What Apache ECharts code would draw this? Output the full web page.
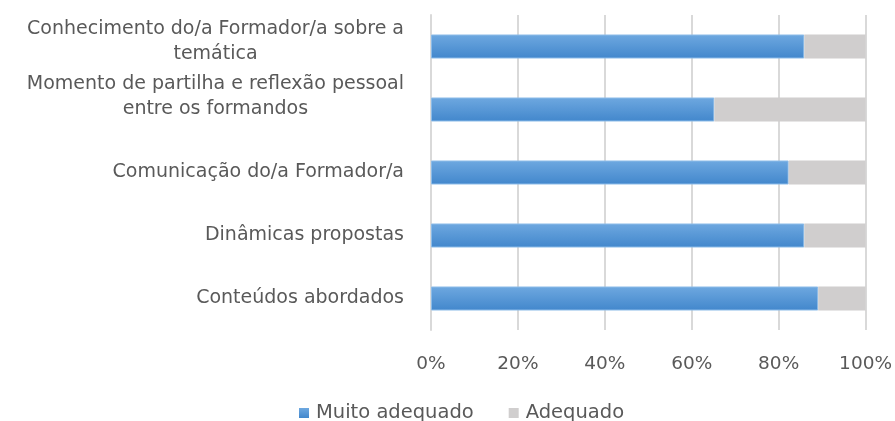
<!DOCTYPE html>
<html>
<head>
<meta charset="utf-8">
<script src="https://cdn.jsdelivr.net/npm/echarts@6/dist/echarts.min.js"></script>
<style>
  html, body { margin: 0; padding: 0; background: #fff; }
  #chart { width: 895px; height: 421px; }
</style>
</head>
<body>
<div id="chart"></div>
<script>
// categories listed bottom to top (category axis starts at the bottom)
const categories = [
  "Conteúdos abordados",
  "Dinâmicas propostas",
  "Comunicação do/a Formador/a",
  "Momento de partilha e reflexão pessoal\nentre os formandos",
  "Conhecimento do/a Formador/a sobre a\ntemática",
];
const muitoAdequado = [89.1, 85.9, 82.3, 65.2, 85.9];
const adequado = [10.9, 14.1, 17.7, 34.8, 14.1];
const xTicks = [0, 20, 40, 60, 80, 100];

// wrapped labels sit a bit higher than their bar
const labelLift = [0, 0, 0, 26, 10];

const font = "DejaVu Sans";
const chart = echarts.init(document.getElementById("chart"));

const option = {
  animation: false,
  textStyle: { fontFamily: font },
  grid: { left: 431, right: 28, top: 15, bottom: 91, containLabel: false },
  legend: {
    data: ["Muito adequado", "Adequado"],
    top: 398,
    left: 294,
    itemWidth: 10,
    itemHeight: 10,
    itemGap: 35,
    icon: "rect",
    itemStyle: { borderWidth: 0 },
    textStyle: { color: "#595959", fontSize: 19.5, fontFamily: font, padding: [0, 0, 0, 2] },
  },
  xAxis: {
    type: "value",
    min: xTicks[0],
    max: xTicks[xTicks.length - 1],
    interval: 20,
    axisLine: { show: false },
    axisTick: { show: false },
    axisLabel: {
      color: "#595959",
      fontSize: 18.5,
      margin: 25,
      formatter: "{value}%",
    },
    splitLine: { lineStyle: { color: "#d9d9d9", width: 2 } },
  },
  yAxis: {
    type: "category",
    data: categories.map((c, i) => ({
      value: c,
      textStyle: { padding: [0, 0, labelLift[i], 0] },
    })),
    axisLine: { lineStyle: { color: "#d9d9d9", width: 2 } },
    axisTick: { show: false },
    axisLabel: {
      interval: 0,
      color: "#595959",
      fontSize: 19,
      margin: 27,
      lineHeight: 25,
      formatter: (v) =>
        v.split("\n").map((s) => "{c|" + s + "}").join("\n"),
      rich: {
        c: { align: "center", fontSize: 19, color: "#595959", lineHeight: 25, fontFamily: font },
      },
    },
  },
  series: [
    {
      name: "Muito adequado",
      type: "bar",
      stack: "total",
      barWidth: 24,
      itemStyle: {
        color: new echarts.graphic.LinearGradient(0, 0, 0, 1, [
          { offset: 0, color: "#6ea8e0" },
          { offset: 1, color: "#4287cc" },
        ]),
        borderColor: "#8bbbe8",
        borderWidth: 1,
      },
      data: muitoAdequado,
    },
    {
      name: "Adequado",
      type: "bar",
      stack: "total",
      barWidth: 24,
      itemStyle: { color: "#d0cece" },
      data: adequado,
    },
  ],
};

chart.setOption(option);
</script>
</body>
</html>
